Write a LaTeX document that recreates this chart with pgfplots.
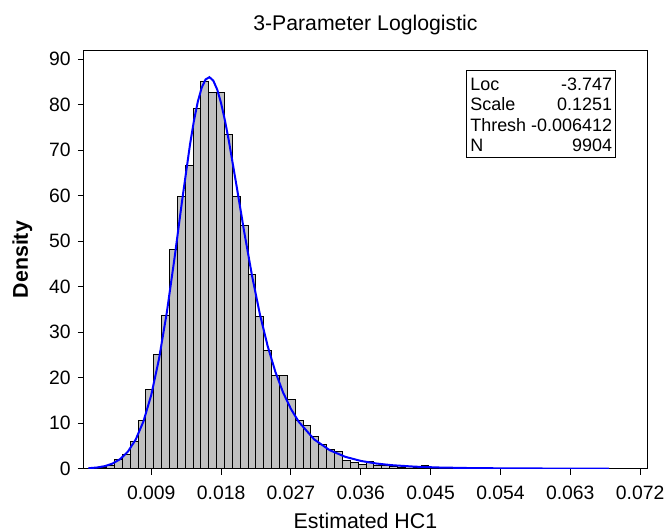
\documentclass[border=0pt]{standalone}
\usepackage{fontspec}
\setmainfont{Liberation Sans}
\usepackage{pgfplots}
\pgfplotsset{compat=1.18}
\definecolor{barfill}{RGB}{192,192,192}
\definecolor{fitblue}{RGB}{0,0,255}

% histogram: left bin edge, density (last row only closes the last bin)
\pgfplotstableread{
x y
0.000208 0.05
0.001221 0.1
0.002234 0.3
0.003247 0.6
0.004260 2.0
0.005273 3.2
0.006286 6.0
0.007299 10.6
0.008312 17.3
0.009325 25.0
0.010338 33.6
0.011351 48.1
0.012364 59.8
0.013377 66.6
0.014390 79.2
0.015403 85.0
0.016416 82.7
0.017429 82.7
0.018442 73.4
0.019455 59.8
0.020468 53.5
0.021481 42.6
0.022494 33.4
0.023507 26.0
0.024520 20.5
0.025533 20.4
0.026546 15.3
0.027559 10.6
0.028572 9.5
0.029585 7.1
0.030598 5.4
0.031611 4.2
0.032624 3.8
0.033637 1.8
0.034650 1.3
0.035663 0.9
0.036676 1.6
0.037689 0.7
0.038702 0.6
0.039715 0.4
0.040728 0.35
0.041741 0.5
0.042754 0.3
0.043767 0.7
0.044780 0.2
0.045793 0.25
0.046806 0.15
0.047819 0.2
0.048832 0.1
0.049845 0.15
0.050858 0.1
0.051871 0.1
0.052884 0.05
0.053897 0.1
0.054910 0.05
0.055923 0.05
0.056936 0.1
0.057949 0.05
0.058962 0.05
0.059975 0.05
0.060988 0.05
0.062001 0.05
0.063014 0.05
0.064027 0.05
0.065040 0.05
0.066053 0.05
0.067066 0.05
0.068079 0.05
0.069092 0.05
0.070105 0.05
0.071118 0.05
0.072131 0.05
0.073144 0
}\histdata

% fitted 3-parameter loglogistic density
\pgfplotstableread{
x y
0.0009 0.094
0.002 0.250
0.003 0.548
0.004 1.108
0.005 2.100
0.006 3.755
0.007 6.395
0.008 10.394
0.009 16.17
0.010 24.09
0.011 34.23
0.012 46.26
0.013 59.17
0.014 71.29
0.0145 76.44
0.015 80.64
0.0155 83.72
0.016 85.54
0.0165 86.05
0.017 85.28
0.0175 83.33
0.018 80.34
0.0185 76.52
0.019 72.07
0.020 62.10
0.021 51.86
0.022 42.31
0.023 33.95
0.024 26.96
0.025 21.26
0.026 16.71
0.027 13.13
0.028 10.32
0.030 6.424
0.032 4.057
0.034 2.604
0.036 1.701
0.038 1.130
0.040 0.763
0.043 0.436
0.046 0.257
0.050 0.133
0.055 0.062
0.060 0.031
0.065 0.016
0.068 0.011
}\fitdata

\begin{document}
\begin{tikzpicture}
\begin{axis}[
    name=ax,
    scale only axis,
    width=282.5pt,
    height=209.65pt,
    xmin=0.000306, xmax=0.0729,
    ymin=0, ymax=91.9,
    xtick={0.009,0.018,0.027,0.036,0.045,0.054,0.063,0.072},
    xticklabels={0.009,0.018,0.027,0.036,0.045,0.054,0.063,0.072},
    scaled x ticks=false,
    ytick={0,10,20,30,40,50,60,70,80,90},
    tick align=outside,
    xtick pos=bottom,
    ytick pos=left,
    major tick length=3pt,
    major tick style={black, line width=0.5pt},
    axis line style={line width=0.5pt},
    tick label style={font=\fontsize{9.7}{11}\selectfont},
    xticklabel style={yshift=-2.3pt},
    /pgf/number format/assume math mode=true,
    title={3-Parameter Loglogistic},
    every axis title/.style={at={(axis description cs:0.5,1.0488)}, anchor=base,
        font=\fontsize{10.65}{12}\selectfont},
    xlabel={Estimated HC1},
    every axis x label/.style={at={(axis description cs:0.5,-0.1431)}, anchor=base,
        inner sep=0pt, font=\fontsize{10.7}{12}\selectfont},
    ylabel={Density},
    every axis y label/.style={at={(axis description cs:-0.0991,0.5)}, rotate=90,
        anchor=base, inner sep=0pt, font=\bfseries\fontsize{10.7}{12}\selectfont},
]

\addplot[ybar interval, fill=barfill, draw=black, line width=0.5pt] table[x=x, y=y] {\histdata};

\addplot[fitblue, line width=1pt, no marks] table[x=x, y=y] {\fitdata};

\node[draw, line width=0.5pt, fill=white, anchor=north east, inner xsep=1.7pt, inner ysep=0pt,
      font=\fontsize{9}{10.15}\selectfont] at (axis description cs:0.9446,0.9530) {%
    \begin{tabular}{@{}l@{\ }r@{}}
    \rule{0pt}{10pt}Loc & -3.747\\
    Scale & 0.1251\\
    Thresh & -0.006412\\
    N & 9904
    \end{tabular}};

\end{axis}
\path ([xshift=-42pt, yshift=-31pt]ax.south west) rectangle ([xshift=10.85pt, yshift=25.35pt]ax.north east);
\end{tikzpicture}
\end{document}
